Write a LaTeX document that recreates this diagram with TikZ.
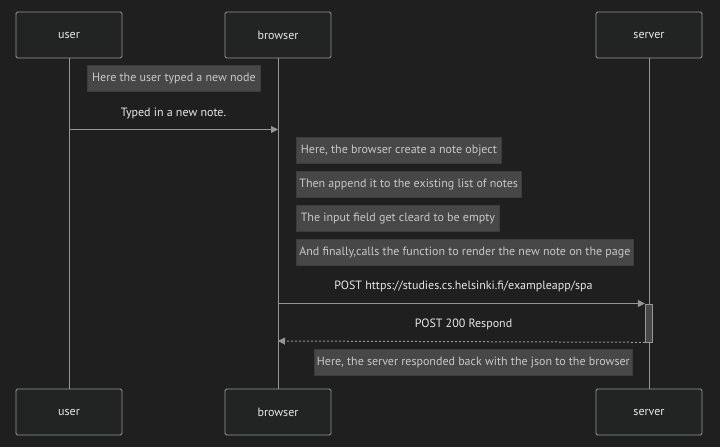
\documentclass[tikz,border=0pt]{standalone}
\usepackage{fontspec}
\setmainfont{PT Sans}
\usetikzlibrary{arrows.meta}
\definecolor{bgdark}{RGB}{31,31,31}
\definecolor{actorfill}{RGB}{34,36,36}
\definecolor{linegray}{RGB}{150,150,150}
\definecolor{notefill}{RGB}{71,71,71}
\definecolor{notedge}{RGB}{60,60,60}
\definecolor{notetext}{RGB}{200,200,200}
\definecolor{msgtext}{RGB}{232,232,232}

\begin{document}
\begin{tikzpicture}[x=1pt,y=-1pt,font=\fontsize{12}{14}\selectfont,
  actor/.style={draw=linegray,fill=actorfill,rounded corners=1.5pt,line width=0.9pt,
    minimum width=106pt,minimum height=46pt,text=msgtext},
  lifeline/.style={draw=linegray,line width=1pt},
  note/.style={draw=notedge,fill=notefill,text=notetext,line width=0.8pt,
    minimum height=26pt,inner xsep=3pt,anchor=north west},
  msglabel/.style={text=msgtext},
  msg/.style={draw=linegray,line width=1pt,-{Triangle[length=7pt,width=7pt]}},
  reply/.style={msg,dash pattern=on 2pt off 2pt},
  activation/.style={draw=linegray,fill=notefill,line width=0.8pt,
    minimum width=7.5pt,minimum height=38pt,inner sep=0pt,anchor=north}]
  \useasboundingbox (0,0) rectangle (720,447);
  \fill[bgdark] (0,0) rectangle (720,447);

  % participants, top and bottom
  \node[actor] (userTop) at (69,35) {user};
  \node[actor] (browserTop) at (278,35) {browser};
  \node[actor] (serverTop) at (649,35) {server};
  \node[actor] (userBot) at (69,412) {user};
  \node[actor] (browserBot) at (278,412) {browser};
  \node[actor] (serverBot) at (649,412) {server};

  \draw[lifeline] (userTop) -- (userBot);
  \draw[lifeline] (browserTop) -- (browserBot);
  \draw[lifeline] (serverTop) -- (serverBot);

  % user types a note
  \node[note,minimum width=173pt] (typedNote) at (87,65) {Here the user typed a new node};
  \coordinate (typedFrom) at (69,129.5);
  \coordinate (typedTo) at (278,129.5);
  \node[msglabel] (typedLabel) at (173.5,113) {Typed in a new note.};
  \draw[msg] (typedFrom) -- (typedTo);

  % what the browser does
  \node[note,minimum width=205pt] (createNote) at (296,137) {Here, the browser create a note object};
  \node[note,minimum width=224pt] (appendNote) at (296,171) {Then append it to the existing list of notes};
  \node[note,minimum width=203pt] (clearNote) at (296,205) {The input field get cleard to be empty};
  \node[note,minimum width=335pt] (renderNote) at (296,239) {And finally,calls the function to render the new note on the page};

  % POST to the server
  \node[activation] (serverAct) at (649,303.5) {};
  \coordinate (postFrom) at (278,303.5);
  \node[msglabel] (postLabel) at (463.5,286) {POST https://studies.cs.helsinki.fi/exampleapp/spa};
  \draw[msg] (postFrom) -- (serverAct.north west);
  \coordinate (replyTo) at (278,341);
  \node[msglabel] (replyLabel) at (463.5,324) {POST 200 Respond};
  \draw[reply] (serverAct.south west) -- (replyTo);

  \node[note,minimum width=318pt] (jsonNote) at (313.5,349) {Here, the server responded back with the json to the browser};
\end{tikzpicture}
\end{document}
